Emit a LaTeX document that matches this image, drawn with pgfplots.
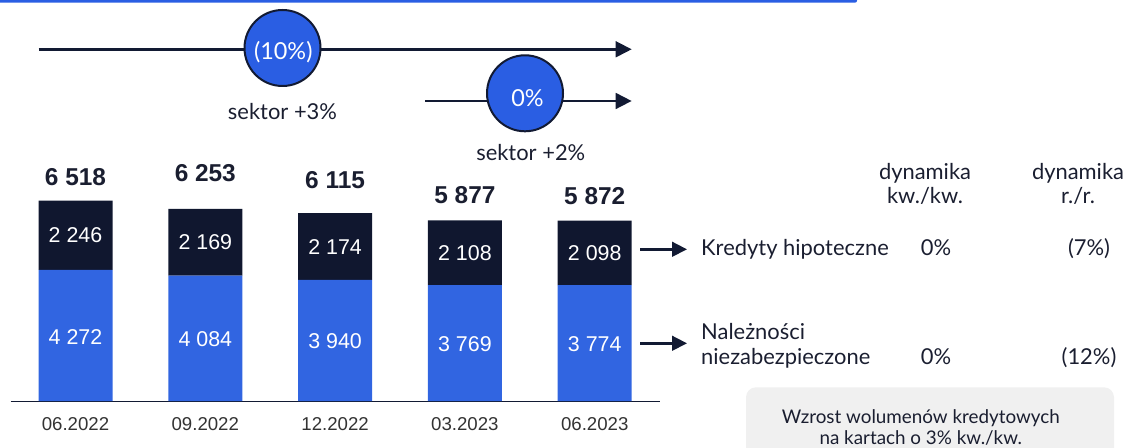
\documentclass[border=0pt]{standalone}
\usepackage{pgfplots}
\pgfplotsset{compat=1.18}
\usepackage{fontspec}
\setmainfont{Lato}
\newfontfamily\arial{Liberation Sans}
\usetikzlibrary{arrows.meta}
\definecolor{barnavy}{HTML}{10172F}
\definecolor{barblue}{HTML}{3165E1}
\definecolor{circblue}{HTML}{2A5EE3}
\definecolor{linenavy}{HTML}{121A33}
\definecolor{txt}{HTML}{1A1E30}
\definecolor{lblgray}{HTML}{333333}
\definecolor{boxgray}{HTML}{F0F0F0}
\begin{document}
\begin{tikzpicture}[x=1bp,y=1bp]
\path[use as bounding box] (0,0) rectangle (1131,448);
% header strip
\fill[circblue, rounded corners=2bp] (-10,455) rectangle (857,445.3);
\begin{axis}[at={(10.6bp,46.8bp)}, anchor=south west,
  x=129.8bp, y=0.03077bp,
  xmin=-0.5, xmax=4.5, ymin=0, ymax=7000,
  enlarge x limits=false, enlarge y limits=false,
  ybar stacked, bar width=74bp,
  axis y line=none, axis x line=bottom,
  axis line style={-, draw=linenavy, line width=1.3bp},
  xtick={0,1,2,3,4},
  xticklabels={06.2022,09.2022,12.2022,03.2023,06.2023},
  major tick length=0pt,
  xticklabel style={font=\arial\fontsize{18.7}{20}\selectfont, text=lblgray, yshift=-13bp},
  clip=false]
\addplot[fill=barblue, draw=none] coordinates {(0,4272) (1,4084) (2,3940) (3,3769) (4,3774)};
\addplot[fill=barnavy, draw=none] coordinates {(0,2246) (1,2169) (2,2174) (3,2108) (4,2098)};
% label anchors
\coordinate (b0) at (axis cs:0,2100);
\coordinate (b1) at (axis cs:1,2010);
\coordinate (b2) at (axis cs:2,1940);
\coordinate (b3) at (axis cs:3,1855);
\coordinate (b4) at (axis cs:4,1858);
\coordinate (t0) at (axis cs:0,5395);
\coordinate (t1) at (axis cs:1,5168.5);
\coordinate (t2) at (axis cs:2,5027);
\coordinate (t3) at (axis cs:3,4823);
\coordinate (t4) at (axis cs:4,4823);
\coordinate (s0) at (axis cs:0,7296);
\coordinate (s1) at (axis cs:1,7407);
\coordinate (s2) at (axis cs:2,7189);
\coordinate (s3) at (axis cs:3,6701);
\coordinate (s4) at (axis cs:4,6669);
\end{axis}
% segment labels
\tikzset{seg/.style={text=white, font=\arial\fontsize{21.5}{24}\selectfont, inner sep=0pt, anchor=center}}
\node[seg] at (b0) {4 272};
\node[seg] at (b1) {4 084};
\node[seg] at (b2) {3 940};
\node[seg] at (b3) {3 769};
\node[seg] at (b4) {3 774};
\node[seg] at (t0) {2 246};
\node[seg] at (t1) {2 169};
\node[seg] at (t2) {2 174};
\node[seg] at (t3) {2 108};
\node[seg] at (t4) {2 098};
% totals
\tikzset{tot/.style={text=txt, font=\arial\bfseries\fontsize{24.5}{26}\selectfont, inner sep=0pt, anchor=center}}
\node[tot] at (s0) {6 518};
\node[tot] at (s1) {6 253};
\node[tot] at (s2) {6 115};
\node[tot] at (s3) {5 877};
\node[tot] at (s4) {5 872};
% top arrows and circles
\draw[linenavy, line width=2.5bp, -{Triangle[length=16bp,width=15.7bp]}] (38.7,398.7) -- (631.7,398.7);
\draw[linenavy, line width=2.5bp, -{Triangle[length=16bp,width=15.7bp]}] (425.3,347) -- (631.7,347);
\draw[fill=circblue, draw=linenavy, line width=2bp] (282.5,400) circle (38);
\draw[fill=circblue, draw=linenavy, line width=2bp] (525,354.7) circle (38);
\tikzset{big/.style={font=\fontsize{22}{24}\selectfont, inner sep=0pt, anchor=base}}
\node[big, text=white, font=\fontsize{23.5}{24}\selectfont] at (283.3,388) {(10\%)};
\node[big, text=white, font=\fontsize{23.5}{24}\selectfont] at (527.5,341.3) {0\%};
\node[big, text=txt] at (282.5,328) {sektor +3\%};
\node[big, text=txt] at (530.8,287) {sektor +2\%};
% right side
\node[big, text=txt] at (925,268.7) {dynamika};
\node[big, text=txt] at (925,244.7) {kw./kw.};
\node[big, text=txt] at (1078,268.7) {dynamika};
\node[big, text=txt] at (1078,244.7) {r./r.};
\draw[linenavy, line width=2.5bp, -{Triangle[length=15bp,width=14.7bp]}] (640,198.7) -- (687,198.7);
\draw[linenavy, line width=2.5bp, -{Triangle[length=15bp,width=14.7bp]}] (640,104.7) -- (687,104.7);
\node[big, text=txt, anchor=base west] at (701,192) {Kredyty hipoteczne};
\node[big, text=txt] at (936,192) {0\%};
\node[big, text=txt] at (1089,192) {(7\%)};
\node[big, text=txt, anchor=base west] at (701,108.7) {Należności};
\node[big, text=txt, anchor=base west] at (701,83.7) {niezabezpieczone};
\node[big, text=txt] at (936,83.7) {0\%};
\node[big, text=txt] at (1089,83.7) {(12\%)};
% gray box
\fill[boxgray, rounded corners=10bp] (746,-20) rectangle (1114,60.7);
\tikzset{boxt/.style={font=\fontsize{18.9}{22}\selectfont, inner sep=0pt, anchor=base, text=txt}}
\node[boxt] at (920.8,24) {Wzrost wolumenów kredytowych};
\node[boxt] at (920.8,3) {na kartach o 3\% kw./kw.};
\end{tikzpicture}
\end{document}
